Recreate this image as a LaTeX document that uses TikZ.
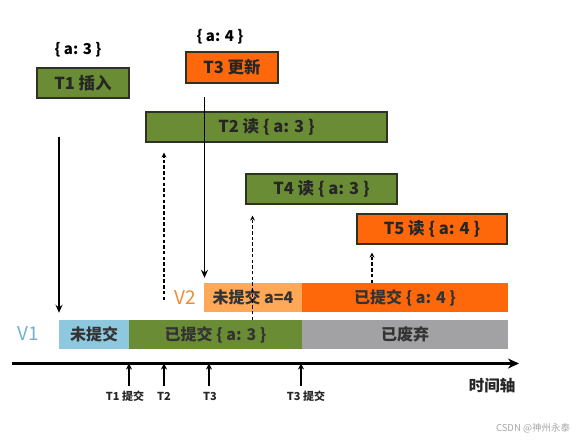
\documentclass[tikz,border=0pt]{standalone}
\usepackage{fontspec}
\setmainfont{Noto Sans CJK SC}
\usetikzlibrary{arrows.meta,calc}
\definecolor{gfill}{RGB}{106,140,52}
\definecolor{ofill}{RGB}{255,104,10}
\definecolor{lofill}{RGB}{255,168,88}
\definecolor{lbfill}{RGB}{142,200,222}
\definecolor{grfill}{RGB}{162,162,164}
\definecolor{vblue}{RGB}{112,180,204}
\definecolor{vorange}{RGB}{240,140,52}
\definecolor{bord}{RGB}{45,50,35}
\tikzset{
  topbox/.style={draw=bord, line width=1.1pt, inner sep=0pt, font=\fontsize{16.5}{18}\selectfont\bfseries, text=black!85},
  gbox/.style={topbox, fill=gfill},
  obox/.style={topbox, fill=ofill},
  bar/.style={inner sep=0pt, minimum height=29pt, font=\fontsize{16}{18}\selectfont\bfseries, text=black!80},
  solidarr/.style={line width=1.5pt, -{Stealth[length=8pt,width=7pt]}},
  dasharr/.style={line width=1.2pt, dashed, dash pattern=on 3.5pt off 2.2pt, -{Stealth[length=5pt,width=5pt]}},
  tick/.style={line width=1.6pt, -{Stealth[length=6pt,width=6pt]}},
  ticklab/.style={font=\fontsize{11}{13}\selectfont\bfseries, text=black!85},
  vlab/.style={font=\fontsize{19}{21}\selectfont}
}
\begin{document}
\begin{tikzpicture}[x=1pt,y=-1pt]
\useasboundingbox (0,0) rectangle (580,439);
% top boxes
\node[font=\fontsize{15}{17}\selectfont\bfseries] (a3) at (78,50) {\{ a: 3 \}};
\node[gbox, minimum width=92pt, minimum height=30pt] (t1) at (83,83) {T1 插入};
\node[font=\fontsize{15}{17}\selectfont\bfseries] (a4) at (220,37) {\{ a: 4 \}};
\node[obox, minimum width=92pt, minimum height=31pt] (t3) at (232,67.5) {T3 更新};
\node[gbox, minimum width=241pt, minimum height=30pt] (t2) at (266.5,127) {T2 读 \{ a: 3 \}};
\node[gbox, minimum width=151pt, minimum height=30pt] (t4) at (321.5,189) {T4 读 \{ a: 3 \}};
\node[obox, minimum width=150pt, minimum height=30pt] (t5) at (432,229) {T5 读 \{ a: 4 \}};
% version bars
\node[vlab, text=vorange] (v2) at (185,298) {V2};
\node[bar, fill=lofill, minimum width=98pt] (v2a) at (253,297.5) {未提交 a=4};
\node[bar, fill=ofill, minimum width=206pt] (v2b) at (405,297.5) {已提交 \{ a: 4 \}};
\node[vlab, text=vblue] (v1) at (28,334) {V1};
\node[bar, fill=lbfill, minimum width=70pt] (v1a) at (94,334.5) {未提交};
\node[bar, fill=gfill, minimum width=173pt] (v1b) at (215.5,334.5) {已提交 \{ a: 3 \}};
\node[bar, fill=grfill, minimum width=206pt] (v1c) at (405,334.5) {已废弃};
% solid arrows
\coordinate (s1) at (59,137);
\draw[solidarr, shorten >=7pt] (s1) -- (s1 |- v1a.north);
\coordinate (s3) at (204.5,97);
\draw[solidarr, shorten >=5pt] (s3) -- (s3 |- v2a.north);
% dashed arrows
\coordinate (d2) at (164,300);
\draw[dasharr, shorten >=10pt] (d2) -- (d2 |- t2.south);
\coordinate (d4) at (252.5,320);
\draw[dasharr, shorten >=11pt] (d4) -- (d4 |- t4.south);
\coordinate (d5) at (372,283);
\draw[dasharr, shorten >=8pt] (d5) -- (d5 |- t5.south);
% time axis
\coordinate (ax0) at (12,363.5);
\coordinate (ax1) at (519,363.5);
\draw[line width=2.4pt, -{Stealth[length=11pt,width=10pt]}] (ax0) -- (ax1);
\node[font=\fontsize{15.5}{17}\selectfont\bfseries, text=black!85] (axl) at (492,386) {时间轴};
% ticks
\foreach \x/\n/\l/\lx in {129/k1/T1 提交/125, 164/k2/T2/164, 209/k3/T3/210, 301/k4/T3 提交/306}{
  \coordinate (\n) at (\x,386);
  \draw[tick] (\n) -- (\n |- ax0);
  \node[ticklab] at (\lx,396) {\l};
}
% watermark
\node[font=\fontsize{9.5}{11}\selectfont, text=black!35] (wm) at (533,428) {CSDN @神州永泰};
\end{tikzpicture}
\end{document}
